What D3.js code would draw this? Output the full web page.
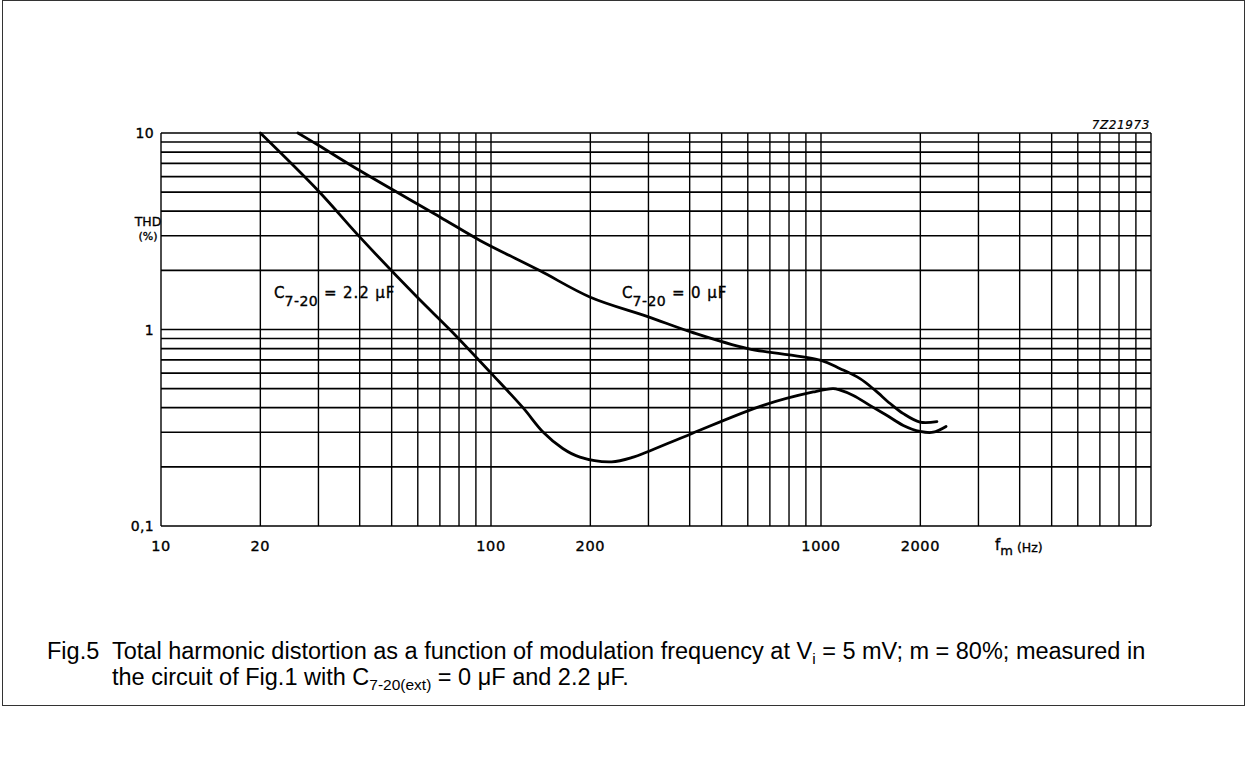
<!DOCTYPE html>
<html>
<head>
<meta charset="utf-8">
<script src="https://cdn.jsdelivr.net/npm/d3@7"></script>
<style>
  html, body { margin: 0; padding: 0; background: #fff; }
  svg { display: block; }
  .lbl { font-family: "DejaVu Sans", sans-serif; fill: #000; stroke: #000; stroke-width: 0.35; }
  .cap { font-family: "Liberation Sans", Arial, sans-serif; fill: #000; }
</style>
</head>
<body>
<svg id="chart" width="1247" height="764"></svg>
<script>
// ---- data ----
const xTickValues = [10, 20, 100, 200, 1000, 2000];
const xTickLabels = ["10", "20", "100", "200", "1000", "2000"];
const yTickValues = [0.1, 1, 10];
const yTickLabels = ["0,1", "1", "10"];

// C7-20 = 2.2 µF
const freq22 = [20, 30, 40, 60, 75, 100, 125, 144, 165, 186, 232, 270, 297, 405, 668, 948, 1089, 1143, 1253, 1406, 1581, 1776, 1995, 2188, 2393];
const thd22  = [10, 5.07, 2.96, 1.45, 1.0, 0.6, 0.40, 0.30, 0.248, 0.224, 0.212, 0.224, 0.238, 0.295, 0.411, 0.481, 0.5, 0.491, 0.462, 0.411, 0.366, 0.325, 0.303, 0.300, 0.321];

// C7-20 = 0 µF
const freq0 = [26, 30, 40, 70, 92.6, 140, 200, 300, 405, 600, 1000, 1143, 1313, 1457, 1620, 1776, 1995, 2245];
const thd0  = [10, 8.66, 6.44, 3.74, 2.84, 2.0, 1.46, 1.16, 0.97, 0.80, 0.697, 0.632, 0.562, 0.491, 0.420, 0.373, 0.338, 0.34];

// ---- drawing ----
const svg = d3.select("#chart");
const x = d3.scaleLog().domain([10, 10000]).range([161, 1151]);
const y = d3.scaleLog().domain([0.1, 10]).range([526, 133]);

// outer frame
svg.append("rect").attr("x", 2.5).attr("y", 0.5).attr("width", 1242).attr("height", 705)
  .attr("fill", "none").attr("stroke", "#333").attr("stroke-width", 1);

const grid = svg.append("g");
grid.selectAll("line.v").data(x.ticks()).join("line")
  .attr("x1", d => x(d)).attr("x2", d => x(d))
  .attr("y1", y(10)).attr("y2", y(0.1))
  .attr("stroke", "#000").attr("stroke-width", 1.4);
grid.selectAll("line.h").data(y.ticks()).join("line")
  .attr("x1", x(10)).attr("x2", x(10000))
  .attr("y1", d => y(d)).attr("y2", d => y(d))
  .attr("stroke", "#000").attr("stroke-width", 1.7);

// x tick labels
svg.append("g").selectAll("text").data(xTickValues).join("text")
  .attr("class", "lbl").attr("x", d => x(d)).attr("y", 551)
  .attr("text-anchor", "middle").attr("font-size", 14.5).attr("letter-spacing", 0.6)
  .text((d, i) => xTickLabels[i]);

// y tick labels
svg.append("g").selectAll("text").data(yTickValues).join("text")
  .attr("class", "lbl").attr("x", 154).attr("y", d => y(d) + 5)
  .attr("text-anchor", "end").attr("font-size", 14).attr("letter-spacing", 0.3)
  .text((d, i) => yTickLabels[i]);

// axis titles
svg.append("text").attr("class", "lbl").attr("x", 148).attr("y", 226)
  .attr("text-anchor", "middle").attr("font-size", 12.5).text("THD");
svg.append("text").attr("class", "lbl").attr("x", 148).attr("y", 240)
  .attr("text-anchor", "middle").attr("font-size", 11).text("(%)");

const fm = svg.append("text").attr("class", "lbl").attr("x", 995).attr("y", 550).attr("font-size", 15);
fm.append("tspan").text("f");
fm.append("tspan").attr("dy", 5).attr("font-size", 13).text("m");
fm.append("tspan").attr("dy", -3).attr("dx", 4).attr("font-size", 12.5).text("(Hz)");

svg.append("text").attr("class", "lbl").attr("x", 1150).attr("y", 129)
  .attr("text-anchor", "end").attr("font-size", 12).attr("font-style", "italic")
  .attr("letter-spacing", 0.6).style("stroke-width", 0.2).text("7Z21973");

// curves
const line = d3.line().x(d => x(d[0])).y(d => y(d[1])).curve(d3.curveCatmullRom.alpha(0.5));
const s22 = freq22.map((f, i) => [f, thd22[i]]);
const s0 = freq0.map((f, i) => [f, thd0[i]]);
svg.append("path").datum(s22).attr("d", line)
  .attr("fill", "none").attr("stroke", "#000").attr("stroke-width", 2.8).attr("stroke-linecap", "round");
svg.append("path").datum(s0).attr("d", line)
  .attr("fill", "none").attr("stroke", "#000").attr("stroke-width", 2.8).attr("stroke-linecap", "round");

// curve labels
function curveLabel(xp, yp, val) {
  const t = svg.append("text").attr("class", "lbl").attr("x", xp).attr("y", yp).attr("font-size", 15);
  t.append("tspan").text("C");
  t.append("tspan").attr("dy", 8).attr("font-size", 14).attr("letter-spacing", 0.5).text("7-20");
  t.append("tspan").attr("dy", -8).attr("letter-spacing", 0.9).text(" = " + val);
}
curveLabel(274, 298, "2.2 \u03BCF");
curveLabel(622, 298, "0 \u03BCF");

// caption
const c1 = svg.append("text").attr("class", "cap").attr("y", 659).attr("font-size", 23.5);
c1.append("tspan").attr("x", 47).text("Fig.5");
c1.append("tspan").attr("x", 112).text("Total harmonic distortion as a function of modulation frequency at V");
c1.append("tspan").attr("dy", 5).attr("font-size", 15.5).text("i");
c1.append("tspan").attr("dy", -5).text(" = 5 mV; m = 80%; measured in");

const c2 = svg.append("text").attr("class", "cap").attr("y", 685).attr("font-size", 23.5);
c2.append("tspan").attr("x", 112).text("the circuit of Fig.1 with C");
c2.append("tspan").attr("dy", 5).attr("font-size", 15.5).text("7-20(ext)");
c2.append("tspan").attr("dy", -5).text(" = 0 \u03BCF and 2.2 \u03BCF.");
</script>
</body>
</html>
